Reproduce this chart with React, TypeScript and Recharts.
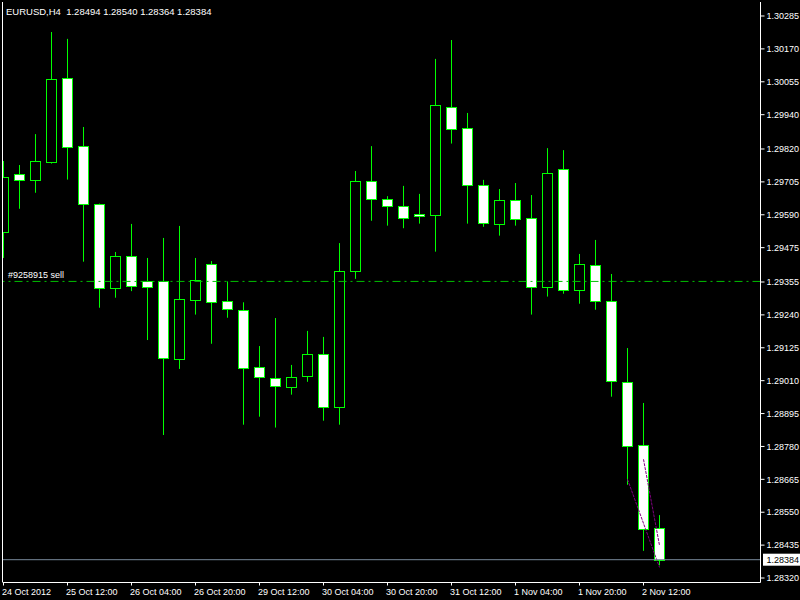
import React from 'react';
import { ComposedChart, Bar, XAxis, YAxis, ReferenceLine, Customized } from 'recharts';

const titleText = 'EURUSD,H4  1.28494 1.28540 1.28364 1.28384';

const opens = [
  1.29530, 1.29734, 1.29711, 1.29776, 1.30067, 1.29829, 1.29628, 1.29333, 1.29445, 1.29357,
  1.29357, 1.29085, 1.29291, 1.29417, 1.29287, 1.29256, 1.29057, 1.29018, 1.28987, 1.29025,
  1.29102, 1.28917, 1.29392, 1.29707, 1.29644, 1.29620, 1.29592, 1.29590, 1.29966, 1.29892,
  1.29693, 1.29559, 1.29641, 1.29578, 1.29336, 1.29749, 1.29326, 1.29413, 1.29287, 1.29004,
  1.28784, 1.28494,
];
const highs = [
  1.29778, 1.29764, 1.29872, 1.30229, 1.30205, 1.29897, 1.29629, 1.29460, 1.29558, 1.29439,
  1.29509, 1.29551, 1.29439, 1.29428, 1.29357, 1.29284, 1.29131, 1.29229, 1.29065, 1.29184,
  1.29163, 1.29491, 1.29743, 1.29830, 1.29655, 1.29691, 1.29663, 1.30135, 1.30201, 1.29946,
  1.29712, 1.29680, 1.29701, 1.29659, 1.29823, 1.29816, 1.29453, 1.29502, 1.29383, 1.29124,
  1.28932, 1.28540,
];
const lows = [
  1.29439, 1.29611, 1.29667, 1.29769, 1.29713, 1.29426, 1.29265, 1.29300, 1.29323, 1.29152,
  1.28820, 1.29051, 1.29241, 1.29139, 1.29230, 1.28856, 1.28884, 1.28846, 1.28961, 1.29006,
  1.28870, 1.28856, 1.29366, 1.29569, 1.29552, 1.29543, 1.29559, 1.29461, 1.29839, 1.29559,
  1.29548, 1.29517, 1.29552, 1.29241, 1.29304, 1.29314, 1.29279, 1.29258, 1.28954, 1.28646,
  1.28415, 1.28364,
];
const closes = [
  1.29722, 1.29711, 1.29777, 1.30064, 1.29828, 1.29627, 1.29333, 1.29445, 1.29342, 1.29339,
  1.29088, 1.29294, 1.29361, 1.29284, 1.29259, 1.29053, 1.29022, 1.28990, 1.29022, 1.29102,
  1.28917, 1.29392, 1.29707, 1.29644, 1.29620, 1.29578, 1.29585, 1.29973, 1.29891, 1.29693,
  1.29562, 1.29641, 1.29574, 1.29336, 1.29735, 1.29326, 1.29417, 1.29287, 1.29008, 1.28780,
  1.28490, 1.28384,
];

const timeTickIndexes = [0, 4, 8, 12, 16, 20, 24, 28, 32, 36, 40];
const timeTickLabels = [
  '24 Oct 2012', '25 Oct 12:00', '26 Oct 04:00', '26 Oct 20:00', '29 Oct 12:00',
  '30 Oct 04:00', '30 Oct 20:00', '31 Oct 12:00', '1 Nov 04:00', '1 Nov 20:00', '2 Nov 12:00',
];
const priceTicks = [
  1.30285, 1.30170, 1.30055, 1.29940, 1.29820, 1.29705, 1.29590, 1.29475, 1.29355,
  1.29240, 1.29125, 1.29010, 1.28895, 1.28780, 1.28665, 1.28550, 1.28435, 1.28320,
];

const orderPrice = 1.29357;
const orderLabel = '#9258915 sell';
const bidPrice = 1.28384;
const tradeFrom = [
  { x: 39, y: 1.28665 },
  { x: 40, y: 1.28735 },
];
const tradeTo = [
  { x: 41, y: 1.28357 },
  { x: 41, y: 1.28434 },
];

const data = opens.map((o, i) => ({
  i,
  open: o,
  high: highs[i],
  low: lows[i],
  close: closes[i],
  range: [lows[i], highs[i]],
}));

const X_MIN = -0.03125;
const X_MAX = X_MIN + 757.5 / 16;
const Y_MIN = 1.2830427;
const Y_MAX = 1.3033395;

const FONT = 'Liberation Sans, Arial, sans-serif';
const GREEN = '#00FF00';

const Candle = (props: any) => {
  const { x, y, width, height, payload } = props;
  if (!payload) return null;
  const { open, close, high, low } = payload;
  const cx = Math.floor(x + width / 2) + 0.5;
  const py = (v: number) => y + ((high - v) / (high - low)) * height;
  const top = Math.round(py(Math.max(open, close))) + 0.5;
  const bot = Math.round(py(Math.min(open, close))) + 0.5;
  const bear = close < open;
  return (
    <g>
      <line x1={cx} x2={cx} y1={py(high)} y2={py(low)} stroke={GREEN} strokeWidth={1} />
      <rect
        x={cx - 5}
        y={top}
        width={10}
        height={Math.max(bot - top, 1)}
        fill={bear ? '#FFFFFF' : '#000000'}
        stroke={GREEN}
        strokeWidth={1}
      />
    </g>
  );
};

const XTick = (props: any) => {
  const { x, y, payload } = props;
  const idx = timeTickIndexes.indexOf(payload.value);
  return (
    <text x={x - 1.5} y={y + 7.5} fill="#FFFFFF" fontSize={9} fontFamily={FONT} textAnchor="start">
      {idx >= 0 ? timeTickLabels[idx] : ''}
    </text>
  );
};

const OrderLabel = (props: any) => {
  const vb = props.viewBox || {};
  return (
    <text x={vb.x + 5} y={vb.y - 3} fill="#FFFFFF" fontSize={9} fontFamily={FONT} textAnchor="start">
      {orderLabel}
    </text>
  );
};

const BidLabel = (props: any) => {
  const vb = props.viewBox || {};
  const right = vb.x + vb.width;
  return (
    <g>
      <rect x={right + 2.5} y={vb.y - 6} width={40} height={12} fill="#FFFFFF" />
      <text x={right + 6} y={vb.y + 3.5} fill="#000000" fontSize={9} fontFamily={FONT} textAnchor="start">
        {bidPrice.toFixed(5)}
      </text>
    </g>
  );
};

const Title = () => (
  <text x={6} y={14.5} fill="#FFFFFF" fontSize={9.5} fontFamily={FONT} xmlSpace="preserve" style={{ whiteSpace: 'pre' }}>
    {titleText}
  </text>
);

export default function App() {
  return (
    <div style={{ position: 'fixed', left: 0, top: 0, width: 800, height: 600, background: '#000000' }}>
      <ComposedChart
        width={800}
        height={600}
        data={data}
        margin={{ top: 2, right: 0, bottom: 0, left: 3 }}
        style={{ background: '#000000' }}
      >
        <XAxis
          dataKey="i"
          type="number"
          domain={[X_MIN, X_MAX]}
          allowDataOverflow
          ticks={timeTickIndexes}
          interval={0}
          height={17.5}
          tickSize={3}
          tickMargin={2}
          tick={<XTick />}
          axisLine={{ stroke: '#FFFFFF' }}
          tickLine={{ stroke: '#FFFFFF' }}
        />
        <YAxis
          orientation="right"
          type="number"
          domain={[Y_MIN, Y_MAX]}
          allowDataOverflow
          ticks={priceTicks}
          interval={0}
          width={39.5}
          tickSize={4}
          tickMargin={2}
          tick={{ fill: '#FFFFFF', fontSize: 9, fontFamily: FONT, textAnchor: 'start' }}
          tickFormatter={(v: number) => v.toFixed(5)}
          axisLine={{ stroke: '#FFFFFF' }}
          tickLine={{ stroke: '#FFFFFF' }}
        />
        <ReferenceLine x={X_MIN - 0.5 / 16} stroke="#FFFFFF" ifOverflow="visible" />
        <ReferenceLine y={orderPrice} stroke="#00C000" strokeDasharray="8 4 2 4" label={OrderLabel} />
        <Bar dataKey="range" barSize={10} shape={Candle} isAnimationActive={false} />
        {tradeFrom.map((p, j) => (
          <ReferenceLine
            key={j}
            segment={[p, tradeTo[j]]}
            stroke="#800080"
            strokeDasharray="3 1"
            ifOverflow="visible"
          />
        ))}
        <ReferenceLine y={bidPrice} stroke="#778899" label={BidLabel} />
        <Customized component={Title} />
      </ComposedChart>
    </div>
  );
}
